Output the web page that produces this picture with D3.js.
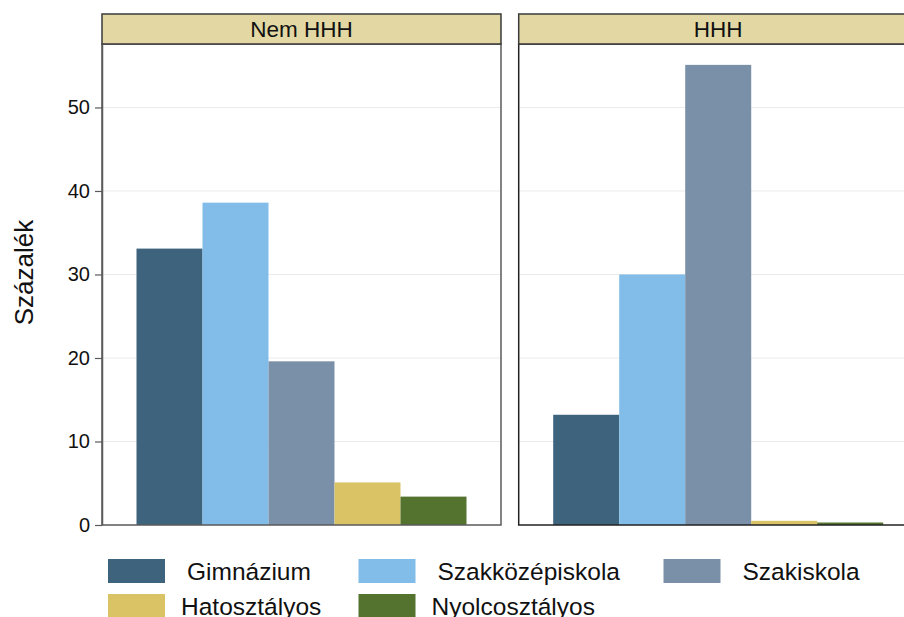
<!DOCTYPE html>
<html><head><meta charset="utf-8">
<script src="https://cdn.jsdelivr.net/npm/d3@7"></script>
<style>
body{margin:0;background:#fff;}
text{font-family:"Liberation Sans",Arial,sans-serif;fill:#111;}
</style></head>
<body><svg id="c" width="904" height="617"></svg>
<script>
const panels = ["Nem HHH", "HHH"];
const categories = ["Gimnázium", "Szakközépiskola", "Szakiskola", "Hatosztályos", "Nyolcosztályos"];
const nemHHH = [33.1, 38.6, 19.6, 5.1, 3.4];
const hhh = [13.2, 30.0, 55.1, 0.5, 0.3];
const yTicks = [0, 10, 20, 30, 40, 50];
const colors = ["#3e637d", "#81bde8", "#7a90a8", "#d9c364", "#53732f"];
const yLabel = "Százalék";

const seriesByPanel = [nemHHH, hhh];
const svg = d3.select("#c");
const y = d3.scaleLinear().domain([0, 57.6]).range([525, 44]);
const panelX = d3.scaleBand().domain(panels).range([102, 917.7]).paddingInner(0.0425);
const pw = panelX.bandwidth();
const color = d3.scaleOrdinal().domain(categories).range(colors);

panels.forEach((p, i) => {
  const x0 = panelX(p);
  const g = svg.append("g");
  g.selectAll("line.grid").data(yTicks.filter(t => t > 0)).join("line")
    .attr("x1", x0).attr("x2", x0 + pw)
    .attr("y1", d => y(d)).attr("y2", d => y(d))
    .attr("stroke", "#ebebeb").attr("stroke-width", 1);
  const xb = d3.scaleBand().domain(categories).range([x0 + 34.5, x0 + pw - 34.5]).padding(0);
  g.selectAll("rect.bar").data(seriesByPanel[i]).join("rect")
    .attr("x", (d, j) => xb(categories[j]))
    .attr("width", xb.bandwidth())
    .attr("y", d => y(d))
    .attr("height", d => y(0) - y(d))
    .attr("fill", (d, j) => color(categories[j]));
  g.append("rect").attr("x", x0).attr("y", 44).attr("width", pw).attr("height", y(0) - 44)
    .attr("fill", "none").attr("stroke", i === 0 ? "#5a5a5a" : "#222").attr("stroke-width", 1.5);
  g.append("rect").attr("x", x0).attr("y", 14).attr("width", pw).attr("height", 30)
    .attr("fill", "#e3d8a4").attr("stroke", "#3a3a3a").attr("stroke-width", 1.5);
  g.append("text").attr("x", x0 + pw / 2).attr("y", 36.5).attr("text-anchor", "middle")
    .style("font-size", "22.5px").text(p);
});

const yAxis = d3.axisLeft(y).tickValues(yTicks).tickSize(7).tickSizeOuter(0).tickPadding(5);
const ga = svg.append("g").attr("transform", "translate(102,0)").call(yAxis);
ga.select(".domain").attr("stroke", "#5a5a5a").attr("stroke-width", 1.5);
ga.selectAll(".tick line").attr("stroke", "#5a5a5a").attr("stroke-width", 1.2);
ga.selectAll(".tick text").style("font-size", "20px").attr("fill", "#111")
  .style("font-family", "'Liberation Sans',Arial,sans-serif");

svg.append("text").attr("transform", "translate(33,272.5) rotate(-90)")
  .attr("text-anchor", "middle").style("font-size", "26px").text(yLabel);

const colX = [108, 358.5, 663.5];
const rowY = [559, 594];
const lg = svg.append("g").selectAll("g").data(categories).join("g")
  .attr("transform", (d, i) => `translate(${colX[i % 3]},${rowY[Math.floor(i / 3)]})`);
lg.append("rect").attr("width", 57).attr("height", 24).attr("fill", d => color(d));
lg.append("text").attr("x", (d, i) => i < 3 ? 79 : 73).attr("y", 21)
  .style("font-size", "24.5px").text(d => d);
</script></body></html>
